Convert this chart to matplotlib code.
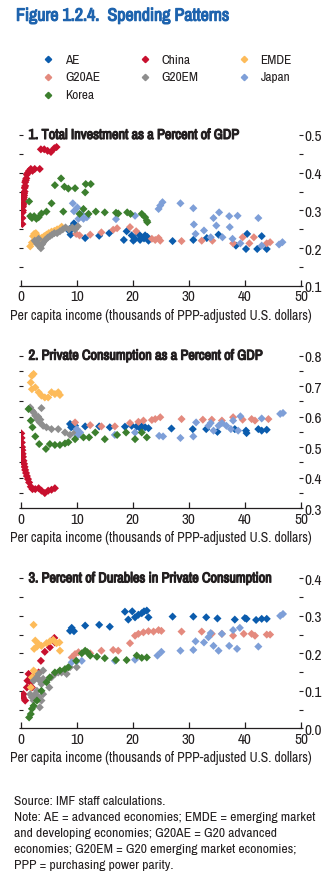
import matplotlib
matplotlib.use("Agg")
import matplotlib.pyplot as plt
import matplotlib.font_manager as fm
import matplotlib.patheffects as pe
from matplotlib.font_manager import FontProperties
from matplotlib.lines import Line2D
from matplotlib.ticker import MultipleLocator, FormatStrFormatter


def weight_of(entry):
    w = entry.weight
    return w if isinstance(w, int) else fm.weight_dict.get(w, 400)


# Pick a narrow sans family, else fall back to Liberation Sans
narrow = [f for f in fm.fontManager.ttflist
          if ('Narrow' in f.name or 'Condensed' in f.name) and f.style == 'normal']
if narrow:
    base = sorted({f.name for f in narrow})[0]
    faces = [f for f in narrow if f.name.startswith(base)]
    reg_face = min(faces, key=lambda f: abs(weight_of(f) - 400))
    plt.rcParams['font.family'] = [reg_face.name, 'DejaVu Sans']
    reg = lambda size: FontProperties(fname=reg_face.fname, size=size)
    fs = 1.0
else:
    plt.rcParams['font.family'] = ['Liberation Sans', 'DejaVu Sans']
    reg = lambda size: FontProperties(family='Liberation Sans', size=size)
    fs = 0.88


def heavy(color):
    # thicken the glyphs a little so headings read as bold
    return [pe.withStroke(linewidth=0.8, foreground=color)]


# Group names and colours
groups = ['AE', 'China', 'EMDE', 'G20AE', 'G20EM', 'Japan', 'Korea']
colors = ['#0B5CAD', '#C8102E', '#FDBB5A', '#E48A7E', '#8E8E8E', '#7E9FD8', '#3C7F2E']

# Panel 1: total investment / GDP vs per capita income
inv_ae_x = [8.7, 8.9, 9.1, 9.5, 11.5, 14.0, 15.8, 18.4, 18.9, 19.8, 20.1, 20.4, 21.0, 21.3, 21.6,
            22.0, 22.2, 22.6, 22.8, 27.1, 30.8, 33.2, 35.3, 38.4, 40.2, 40.4, 42.2, 43.0, 43.9]
inv_ae_y = [0.245, 0.236, 0.256, 0.266, 0.227, 0.233, 0.240, 0.222, 0.245, 0.234, 0.220, 0.225, 0.238, 0.222, 0.229,
            0.226, 0.234, 0.230, 0.220, 0.219, 0.222, 0.227, 0.236, 0.207, 0.198, 0.238, 0.198, 0.232, 0.198]
inv_china_x = [0.3, 0.3, 0.35, 0.4, 0.4, 0.45, 0.5, 0.5, 0.55, 0.6, 0.6, 0.7, 0.7, 0.8, 0.8, 0.9, 1.0, 1.1,
               1.3, 1.5, 1.8, 2.1, 2.5, 3.4, 3.6, 4.2, 4.8, 5.4, 6.0, 6.4]
inv_china_y = [0.264, 0.280, 0.295, 0.300, 0.310, 0.315, 0.320, 0.330, 0.335, 0.340, 0.345, 0.350, 0.360, 0.365,
               0.375, 0.380, 0.385, 0.395, 0.400, 0.405, 0.410, 0.405, 0.410, 0.410, 0.462, 0.462, 0.458, 0.455,
               0.465, 0.468]
inv_emde_x = [1.7, 2.0, 2.2, 2.4, 2.7, 3.0, 3.4, 3.8, 4.2, 4.6, 5.0, 5.5, 6.0, 6.5, 7.0, 7.3]
inv_emde_y = [0.205, 0.215, 0.232, 0.238, 0.240, 0.232, 0.226, 0.228, 0.232, 0.236, 0.240, 0.244, 0.246, 0.250,
              0.252, 0.257]
inv_g20ae_x = [9.9, 10.5, 12.4, 14.4, 16.5, 17.2, 19.5, 20.6, 23.4, 24.0, 24.6, 24.9, 28.7, 32.3, 34.2, 37.9,
               39.6, 40.8, 41.6, 43.9, 44.5]
inv_g20ae_y = [0.238, 0.234, 0.236, 0.242, 0.249, 0.253, 0.256, 0.245, 0.225, 0.222, 0.227, 0.220, 0.219, 0.220,
               0.220, 0.213, 0.229, 0.213, 0.229, 0.213, 0.216]
inv_g20em_x = [2.5, 2.8, 3.0, 3.2, 3.4, 3.6, 3.8, 4.0, 4.4, 4.8, 5.2, 5.6, 6.0, 6.5, 7.0, 7.5, 8.0, 8.6, 9.2,
               9.7, 10.2]
inv_g20em_y = [0.220, 0.215, 0.210, 0.225, 0.205, 0.200, 0.210, 0.215, 0.222, 0.228, 0.232, 0.236, 0.240, 0.240,
               0.245, 0.250, 0.255, 0.250, 0.255, 0.250, 0.258]
inv_japan_x = [9.3, 9.5, 10.1, 10.3, 10.9, 11.2, 11.8, 17.0, 20.4, 24.6, 24.9, 25.3, 28.5, 30.8, 30.9, 31.2,
               32.7, 33.9, 34.4, 34.9, 35.4, 36.0, 37.2, 37.3, 37.8, 38.7, 39.2, 42.4, 43.0, 46.1, 46.7]
inv_japan_y = [0.319, 0.298, 0.308, 0.278, 0.290, 0.278, 0.282, 0.277, 0.286, 0.304, 0.313, 0.322, 0.319, 0.306,
               0.263, 0.238, 0.247, 0.229, 0.280, 0.260, 0.295, 0.229, 0.285, 0.256, 0.225, 0.286, 0.213, 0.280,
               0.207, 0.210, 0.216]
inv_korea_x = [1.5, 1.7, 2.0, 2.4, 2.8, 3.2, 3.7, 4.6, 5.5, 6.1, 7.2, 7.6, 7.8, 8.5, 9.7, 10.5, 11.2, 11.5,
               11.6, 12.1, 12.5, 13.4, 15.0, 17.0, 17.4, 19.0, 19.6, 21.6, 22.2, 22.5, 22.6]
inv_korea_y = [0.324, 0.285, 0.280, 0.285, 0.278, 0.282, 0.292, 0.297, 0.319, 0.367, 0.385, 0.297, 0.363, 0.358,
               0.359, 0.291, 0.304, 0.348, 0.370, 0.291, 0.370, 0.297, 0.295, 0.294, 0.292, 0.295, 0.291, 0.291,
               0.282, 0.273, 0.269]

# Panel 2: private consumption / GDP
con_ae_x = [8.8, 9.0, 9.3, 9.7, 11.5, 14.0, 15.9, 18.6, 19.8, 20.7, 21.3, 21.6, 22.2, 22.8, 26.9, 30.7, 33.1,
            35.1, 38.2, 40.2, 40.3, 42.4, 43.0, 43.9]
con_ae_y = [0.576, 0.565, 0.568, 0.570, 0.568, 0.568, 0.565, 0.567, 0.570, 0.568, 0.562, 0.568, 0.565, 0.562,
            0.561, 0.559, 0.559, 0.550, 0.559, 0.554, 0.546, 0.559, 0.554, 0.557]
con_china_x = [0.1, 0.15, 0.2, 0.25, 0.3, 0.35, 0.4, 0.5, 0.6, 0.7, 0.8, 0.95, 1.1, 1.3, 1.5, 1.8, 2.1, 2.6,
               3.2, 3.7, 4.3, 4.9, 5.5, 6.1]
con_china_y = [0.545, 0.530, 0.515, 0.500, 0.490, 0.478, 0.468, 0.455, 0.445, 0.435, 0.425, 0.415, 0.405, 0.395,
               0.384, 0.370, 0.362, 0.362, 0.365, 0.357, 0.349, 0.357, 0.360, 0.365]
con_emde_x = [1.8, 2.0, 2.3, 2.0, 2.6, 3.2, 3.7, 4.3, 4.9, 5.5, 6.1, 6.7, 7.0]
con_emde_y = [0.712, 0.734, 0.740, 0.690, 0.696, 0.680, 0.669, 0.663, 0.663, 0.680, 0.674, 0.680, 0.671]
con_g20ae_x = [9.7, 12.4, 14.4, 16.8, 19.5, 21.0, 21.9, 23.4, 24.0, 24.9, 28.7, 32.5, 34.1, 35.9, 37.9, 39.6,
               41.2, 41.8, 44.2]
con_g20ae_y = [0.581, 0.572, 0.568, 0.568, 0.579, 0.583, 0.587, 0.589, 0.592, 0.598, 0.592, 0.590, 0.590, 0.587,
               0.598, 0.590, 0.592, 0.587, 0.592]
con_g20em_x = [1.7, 2.0, 2.3, 2.6, 2.9, 3.1, 3.4, 3.5, 3.7, 4.0, 4.6, 5.5, 6.7, 7.9, 8.8, 9.7]
con_g20em_y = [0.630, 0.620, 0.614, 0.603, 0.592, 0.600, 0.581, 0.590, 0.628, 0.570, 0.565, 0.559, 0.559, 0.548,
               0.540, 0.548]
con_japan_x = [10.0, 10.1, 10.6, 16.8, 20.4, 24.7, 25.4, 28.5, 30.8, 31.3, 33.5, 33.9, 34.4, 35.3, 35.9, 36.7,
               37.5, 37.9, 38.8, 39.2, 43.0, 46.3, 46.8]
con_japan_y = [0.559, 0.537, 0.548, 0.540, 0.548, 0.537, 0.535, 0.530, 0.535, 0.581, 0.570, 0.579, 0.554, 0.570,
               0.579, 0.570, 0.559, 0.587, 0.554, 0.601, 0.594, 0.609, 0.612]
con_korea_x = [1.4, 1.8, 2.1, 2.6, 3.3, 4.5, 5.2, 6.1, 7.0, 7.9, 8.5, 9.7, 11.2, 12.2, 13.3, 15.0, 17.2, 18.8,
               20.4, 21.6, 22.5]
con_korea_y = [0.625, 0.587, 0.565, 0.535, 0.510, 0.494, 0.510, 0.507, 0.507, 0.512, 0.516, 0.526, 0.532, 0.532,
               0.548, 0.526, 0.540, 0.548, 0.526, 0.548, 0.532]

# Panel 3: share of durables in private consumption
dur_ae_x = [8.8, 9.1, 9.5, 11.5, 14.0, 15.9, 18.6, 19.2, 19.9, 20.4, 21.0, 21.6, 22.0, 22.5, 22.8, 27.1, 30.8,
            33.1, 35.1, 38.2, 40.0, 40.3, 42.0, 43.0, 43.9]
dur_ae_y = [0.260, 0.268, 0.259, 0.274, 0.276, 0.271, 0.311, 0.290, 0.312, 0.296, 0.303, 0.307, 0.312, 0.314,
            0.296, 0.298, 0.298, 0.296, 0.293, 0.290, 0.294, 0.292, 0.289, 0.292, 0.292]
dur_china_x = [0.4, 0.5, 0.8, 1.1, 1.2, 1.4, 1.7, 2.0, 2.3, 3.2, 3.6, 4.3, 5.2, 6.0, 6.1]
dur_china_y = [0.083, 0.091, 0.074, 0.109, 0.127, 0.145, 0.123, 0.109, 0.136, 0.149, 0.180, 0.204, 0.216, 0.241,
               0.229]
dur_emde_x = [1.8, 2.0, 2.3, 2.6, 2.3, 2.4, 2.6, 2.9, 3.2, 3.7, 4.6, 5.2, 5.8, 6.4, 6.9, 7.0]
dur_emde_y = [0.109, 0.136, 0.154, 0.149, 0.276, 0.212, 0.234, 0.218, 0.225, 0.220, 0.227, 0.232, 0.236, 0.227,
              0.229, 0.207]
dur_g20ae_x = [9.1, 9.7, 10.3, 12.4, 14.4, 16.5, 17.4, 19.5, 20.4, 21.0, 21.9, 22.8, 23.7, 24.6, 25.1, 28.7,
               32.3, 34.1, 35.9, 37.9, 39.8, 41.2, 41.8, 43.9, 44.5]
dur_g20ae_y = [0.189, 0.198, 0.203, 0.200, 0.207, 0.209, 0.207, 0.227, 0.247, 0.252, 0.256, 0.259, 0.258, 0.262,
               0.260, 0.258, 0.258, 0.252, 0.252, 0.247, 0.252, 0.252, 0.247, 0.250, 0.250]
dur_g20em_x = [1.7, 2.0, 2.3, 2.6, 2.9, 3.2, 3.4, 3.7, 4.0, 2.3, 2.9, 3.4, 4.0, 3.7, 4.6, 5.1, 5.5, 6.1, 6.7,
               7.3, 8.2, 8.8, 10.0, 3.2, 4.0]
dur_g20em_y = [0.091, 0.083, 0.074, 0.091, 0.100, 0.083, 0.056, 0.074, 0.091, 0.127, 0.136, 0.127, 0.154, 0.118,
               0.127, 0.109, 0.136, 0.145, 0.149, 0.149, 0.145, 0.163, 0.163, 0.145, 0.132]
dur_japan_x = [9.1, 10.0, 10.9, 16.8, 20.4, 24.4, 25.1, 28.5, 30.8, 31.2, 32.7, 33.5, 33.9, 34.4, 35.3, 35.9,
               37.2, 37.9, 38.6, 39.1, 42.4, 46.3, 46.8]
dur_japan_y = [0.176, 0.179, 0.180, 0.180, 0.183, 0.194, 0.204, 0.207, 0.209, 0.232, 0.229, 0.243, 0.254, 0.220,
               0.207, 0.252, 0.220, 0.262, 0.212, 0.268, 0.218, 0.300, 0.305]
dur_korea_x = [1.5, 1.8, 2.0, 2.3, 2.9, 3.7, 4.6, 5.2, 6.1, 7.0, 7.9, 8.5, 9.9, 10.9, 11.5, 11.9, 12.4, 13.6,
               15.0, 17.0, 18.9, 20.7, 21.6, 22.5]
dur_korea_y = [0.029, 0.038, 0.052, 0.060, 0.074, 0.100, 0.123, 0.136, 0.149, 0.154, 0.158, 0.163, 0.180, 0.200,
               0.207, 0.203, 0.194, 0.191, 0.187, 0.182, 0.182, 0.194, 0.188, 0.189]

panels = [
    ("1. Total Investment as a Percent of GDP", (0.1, 0.5),
     [(inv_ae_x, inv_ae_y), (inv_china_x, inv_china_y), (inv_emde_x, inv_emde_y), (inv_g20ae_x, inv_g20ae_y),
      (inv_g20em_x, inv_g20em_y), (inv_japan_x, inv_japan_y), (inv_korea_x, inv_korea_y)]),
    ("2. Private Consumption as a Percent of GDP", (0.3, 0.8),
     [(con_ae_x, con_ae_y), (con_china_x, con_china_y), (con_emde_x, con_emde_y), (con_g20ae_x, con_g20ae_y),
      (con_g20em_x, con_g20em_y), (con_japan_x, con_japan_y), (con_korea_x, con_korea_y)]),
    ("3. Percent of Durables in Private Consumption", (0.0, 0.4),
     [(dur_ae_x, dur_ae_y), (dur_china_x, dur_china_y), (dur_emde_x, dur_emde_y), (dur_g20ae_x, dur_g20ae_y),
      (dur_g20em_x, dur_g20em_y), (dur_japan_x, dur_japan_y), (dur_korea_x, dur_korea_y)]),
]

text_color = '#231F20'
title_blue = '#1D63AE'
fig = plt.figure(figsize=(3.34, 8.79), dpi=100)

fig.text(0.048, 0.981, "Figure 1.2.4.  Spending Patterns", color=title_blue,
         fontproperties=reg(12.9 * fs), va='center', ha='left', path_effects=heavy(title_blue))

# Legend laid out by hand in three columns
leg_cols = [0.145, 0.433, 0.730]
leg_rows = [0.9314, 0.9113, 0.8911]
for i, (name, col) in enumerate(zip(groups, colors)):
    r, c = divmod(i, 3)
    fig.add_artist(Line2D([leg_cols[c]], [leg_rows[r]], marker='D', markersize=3.2, color=col,
                          linestyle='none', transform=fig.transFigure))
    fig.text(leg_cols[c] + 0.05, leg_rows[r], name, fontproperties=reg(9.6 * fs), color=text_color,
             va='center')

positions = [[0.062, 0.6735, 0.839, 0.1718],
             [0.062, 0.4209, 0.839, 0.1733],
             [0.062, 0.1703, 0.839, 0.1706]]

for (title, ylim, series), pos in zip(panels, positions):
    ax = fig.add_axes(pos)
    for (xs, ys), col in zip(series, colors):
        ax.scatter(xs, ys, marker='D', s=17, color=col, edgecolors='none', zorder=3)
    ax.set_xlim(0, 50)
    ax.set_ylim(*ylim)
    for side in ['top', 'left', 'right']:
        ax.spines[side].set_visible(False)
    ax.spines['bottom'].set_color(text_color)
    ax.spines['bottom'].set_linewidth(0.9)
    ax.xaxis.set_major_locator(MultipleLocator(10))
    ax.yaxis.set_major_locator(MultipleLocator(0.1))
    ax.yaxis.set_minor_locator(MultipleLocator(0.05))
    ax.yaxis.set_major_formatter(FormatStrFormatter('%.1f'))
    ax.tick_params(axis='x', direction='in', length=4, width=0.9, colors=text_color, pad=2.5)
    ax.tick_params(axis='y', which='both', direction='inout', length=3.5, width=0.8, colors=text_color,
                   left=True, right=True, labelleft=False, labelright=True, pad=1)
    for lab in ax.get_xticklabels() + ax.get_yticklabels():
        lab.set_fontproperties(reg(11.0 * fs))
    ax.set_xlabel("Per capita income (thousands of PPP-adjusted U.S. dollars)",
                  fontproperties=reg(9.9 * fs), color=text_color, labelpad=3)
    ax.text(0.028, 1.0, title, transform=ax.transAxes, fontproperties=reg(10.3 * fs),
            color=text_color, va='center', ha='left', path_effects=heavy(text_color))

notes = ["Source: IMF staff calculations.",
         "Note: AE = advanced economies; EMDE = emerging market",
         "and developing economies; G20AE = G20 advanced",
         "economies; G20EM = G20 emerging market economies;",
         "PPP = purchasing power parity."]
for i, line in enumerate(notes):
    fig.text(0.042, 0.088 - i * 0.0182, line, fontproperties=reg(9.8 * fs), color=text_color,
             va='center', ha='left')

fig.savefig("out.png", dpi=100, facecolor='white')
